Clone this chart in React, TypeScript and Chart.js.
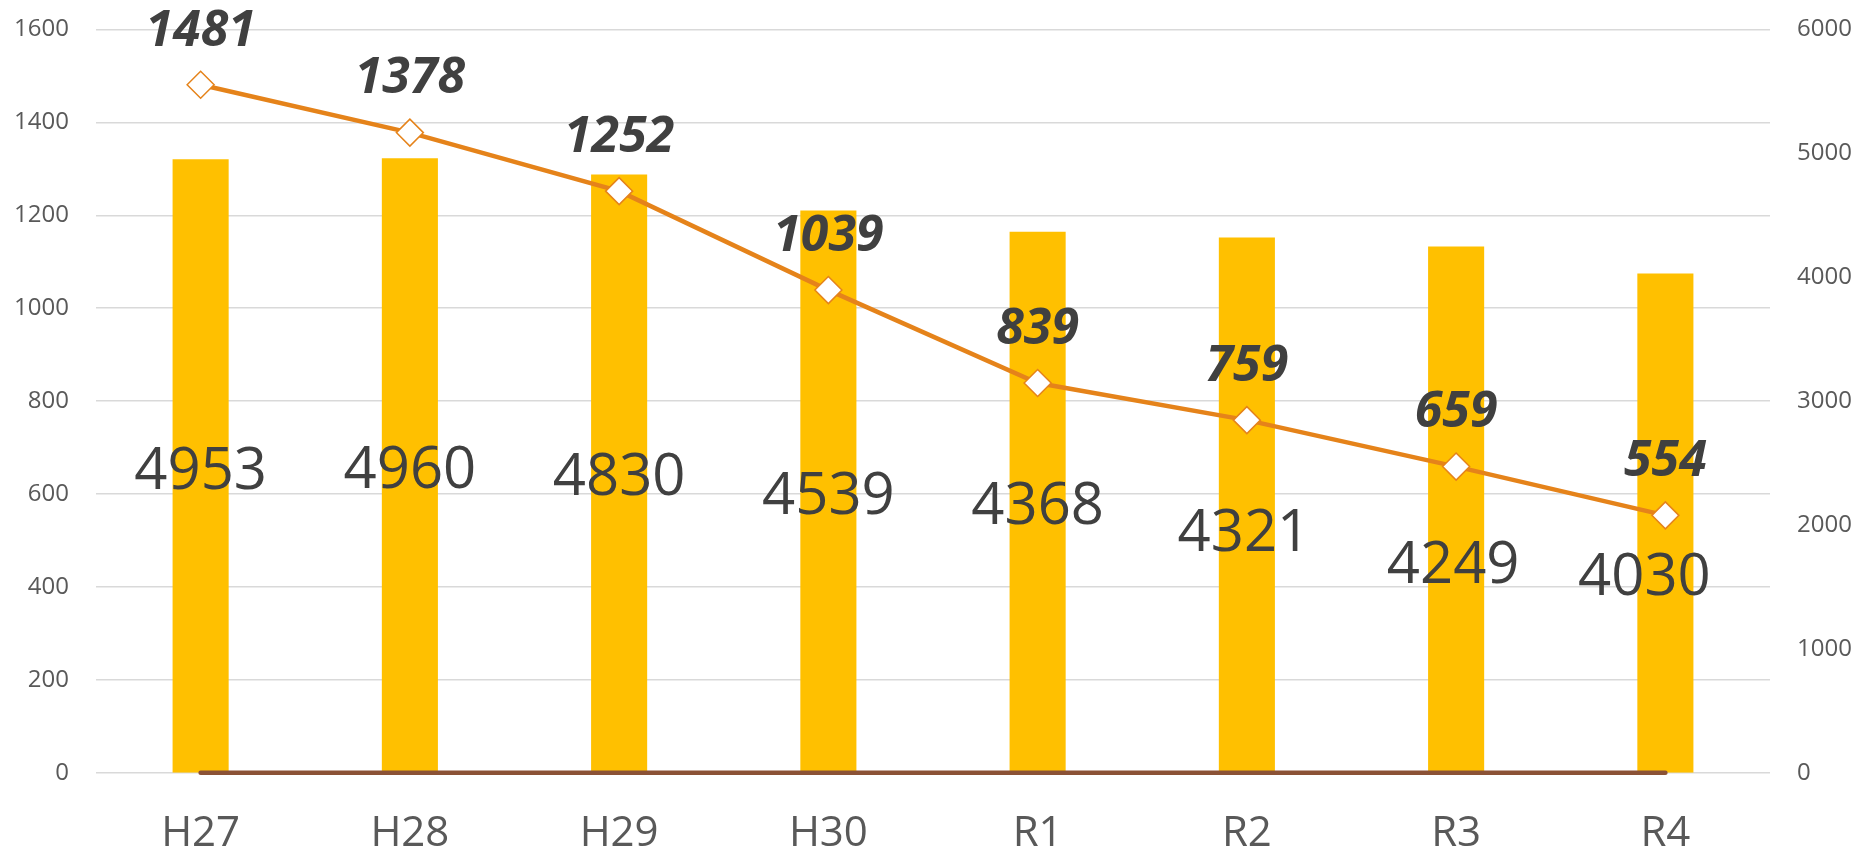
import React, { useEffect, useRef } from "react";
import { Chart, registerables } from "chart.js";

Chart.register(...registerables);

const categories = ["H27", "H28", "H29", "H30", "R1", "R2", "R3", "R4"];
const barValues = [4953, 4960, 4830, 4539, 4368, 4321, 4249, 4030];
const lineValues = [1481, 1378, 1252, 1039, 839, 759, 659, 554];
const baseValues = [0, 0, 0, 0, 0, 0, 0, 0];

const leftMax = 1600;
const leftStep = 200;
const rightMax = 6000;
const rightStep = 1000;

const FONT = "'Open Sans', 'DejaVu Sans', sans-serif";

const labelPlugin = {
  id: "valueLabels",
  afterDatasetsDraw(chart: any, _args: any, opts: any) {
    const ctx = chart.ctx;
    ctx.save();
    ctx.textAlign = "center";
    ctx.textBaseline = "alphabetic";
    ctx.fillStyle = "#404040";

    const barSize = 58;
    ctx.font = `${barSize}px ${FONT}`;
    const barMeta = chart.getDatasetMeta(0);
    barMeta.data.forEach((el: any, i: number) => {
      const p = el.getProps(["x", "y", "base"], true);
      const shift = opts.barShift[i] || [0, 0];
      const cy = (p.y + p.base) / 2 + shift[1];
      ctx.fillText(String(barValues[i]), p.x + shift[0], cy + 0.357 * barSize);
    });

    const lineSize = 50;
    ctx.font = `italic bold ${lineSize}px ${FONT}`;
    const lineMeta = chart.getDatasetMeta(2);
    lineMeta.data.forEach((el: any, i: number) => {
      const cy = el.y - opts.lineGap;
      ctx.fillText(String(lineValues[i]), el.x, cy + 0.357 * lineSize);
    });
    ctx.restore();
  },
};

export default function App() {
  const ref = useRef<HTMLCanvasElement | null>(null);

  useEffect(() => {
    if (!ref.current) return;
    const chart = new Chart(ref.current, {
      type: "bar",
      data: {
        labels: categories,
        datasets: [
          {
            type: "bar",
            label: "bars",
            data: barValues,
            yAxisID: "yRight",
            backgroundColor: "#FFC000",
            borderWidth: 0,
            barPercentage: 0.268,
            categoryPercentage: 1,
            order: 3,
          } as any,
          {
            type: "line",
            label: "base",
            data: baseValues,
            yAxisID: "yLeft",
            borderColor: "#8B5236",
            borderWidth: 4.5,
            borderCapStyle: "round",
            pointRadius: 0,
            clip: false,
            order: 2,
          } as any,
          {
            type: "line",
            label: "line",
            data: lineValues,
            yAxisID: "yLeft",
            borderColor: "#E5831A",
            borderWidth: 4.5,
            pointStyle: "rectRot",
            pointRadius: 13.5,
            pointBackgroundColor: "#FFFFFF",
            pointBorderColor: "#E5831A",
            pointBorderWidth: 1.5,
            clip: false,
            order: 1,
          } as any,
        ],
      },
      options: {
        responsive: false,
        animation: false,
        devicePixelRatio: 1,
        layout: { autoPadding: false, padding: { top: 29.5, left: 0, right: 0, bottom: 0 } },
        plugins: {
          legend: { display: false },
          tooltip: { enabled: false },
          valueLabels: {
            lineGap: 57,
            barShift: [
              [0, 2],
              [0, 2],
              [0, 1],
              [0, 2],
              [0, 1],
              [-3, 25],
              [-3, 53],
              [-21, 51],
            ],
          },
        } as any,
        scales: {
          x: {
            grid: { display: false, drawTicks: false },
            border: { display: false },
            ticks: {
              color: "#595959",
              font: { family: FONT, size: 42 },
              padding: 36,
              maxRotation: 0,
            },
            afterFit: (s: any) => {
              s.height = 79.3;
            },
          },
          yLeft: {
            position: "left",
            min: 0,
            max: leftMax,
            ticks: {
              stepSize: leftStep,
              color: "#595959",
              font: { family: FONT, size: 24 },
              padding: 27,
              callback: (v: any) => String(v),
            },
            grid: { color: "#D9D9D9", lineWidth: 1.5, drawTicks: false },
            border: { display: false },
            afterFit: (s: any) => {
              s.width = 96;
              s.paddingTop = 0;
              s.paddingBottom = 0;
            },
          },
          yRight: {
            position: "right",
            min: 0,
            max: rightMax,
            ticks: {
              stepSize: rightStep,
              color: "#595959",
              font: { family: FONT, size: 24 },
              padding: 27,
              callback: (v: any) => String(v),
            },
            grid: { display: false, drawTicks: false },
            border: { display: false },
            afterFit: (s: any) => {
              s.width = 102;
              s.paddingTop = 0;
              s.paddingBottom = 0;
            },
          },
        } as any,
      },
      plugins: [labelPlugin],
    });
    return () => chart.destroy();
  }, []);

  return (
    <div style={{ position: "absolute", left: 0, top: 0, width: 1872, height: 852, background: "#FFFFFF" }}>
      <canvas ref={ref} width={1872} height={852} style={{ display: "block" }} />
    </div>
  );
}
